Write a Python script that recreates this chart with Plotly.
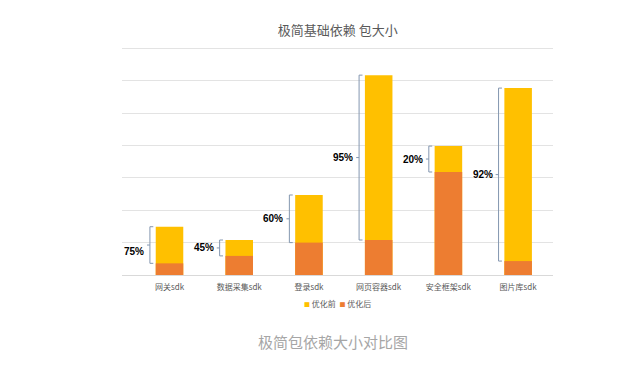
import plotly.graph_objects as go

categories = ["网关sdk", "数据采集sdk", "登录sdk", "网页容器sdk", "安全框架sdk", "图片库sdk"]
before = [1.49, 1.08, 2.47, 6.17, 3.98, 5.77]   # 优化前
after = [0.36, 0.59, 1.00, 1.08, 3.18, 0.43]    # 优化后
reduction_labels = ["75%", "45%", "60%", "95%", "20%", "92%"]

YELLOW = "#FFC000"
ORANGE = "#ED7D31"
BRACE = "#8497B0"
CJK = "Noto Sans CJK SC, Liberation Sans, sans-serif"

fig = go.Figure()
fig.add_trace(go.Bar(x=categories, y=before, name="优化前", marker_color=YELLOW,
                     marker_line_width=0, showlegend=False))
fig.add_trace(go.Bar(x=categories, y=after, name="优化后", marker_color=ORANGE,
                     marker_line_width=0, showlegend=False))

# brackets
half_bar = 0.395 / 2
xl_off = half_bar + 6 / 71.9
xh_off = half_bar + 2.5 / 71.9
xt_off = xl_off + 3 / 71.9
shapes = []
annotations = []
line = dict(color=BRACE, width=1)
for i, (b, a, lab) in enumerate(zip(before, after, reduction_labels)):
    xl = i - xl_off
    xh = i - xh_off
    xt = i - xt_off
    mid = (a + b) / 2
    shapes += [
        dict(type="line", xref="x", yref="y", x0=xh, x1=xl, y0=b, y1=b, line=line),
        dict(type="line", xref="x", yref="y", x0=xl, x1=xl, y0=b, y1=a, line=line),
        dict(type="line", xref="x", yref="y", x0=xl, x1=xh, y0=a, y1=a, line=line),
        dict(type="line", xref="x", yref="y", x0=xl, x1=xt, y0=mid, y1=mid, line=line),
    ]
    annotations.append(dict(x=xt, y=mid, xref="x", yref="y", text=lab, showarrow=False,
                            xanchor="right", yanchor="middle", xshift=-1,
                            yshift=-6 if i == 0 else 0,
                            font=dict(family="Liberation Sans, Noto Sans CJK SC", size=10,
                                      color="#000000", weight="bold")))

# legend (compact, Excel-style)
annotations.append(dict(
    x=0.5, y=-0.122, xref="paper", yref="paper", showarrow=False,
    xanchor="center", yanchor="middle",
    text=(f"<span style='color:{YELLOW};font-size:6px'>■</span> 优化前  "
          f"<span style='color:{ORANGE};font-size:6px'>■</span> 优化后"),
    font=dict(family=CJK, size=8, color="#595959")))
# caption
annotations.append(dict(
    x=0.49, y=-0.291, xref="paper", yref="paper", showarrow=False,
    xanchor="center", yanchor="middle", text="极简包依赖大小对比图",
    font=dict(family=CJK, size=15, color="#A6A6A6")))

fig.update_layout(
    width=641, height=370,
    margin=dict(l=122, r=88, t=45, b=95),
    paper_bgcolor="white", plot_bgcolor="white",
    barmode="overlay", bargap=0.605,
    title=dict(text="极简基础依赖 包大小", x=0.527, xanchor="center",
               y=1 - 30 / 370, yanchor="middle", yref="container",
               font=dict(family=CJK, size=13, color="#595959")),
    shapes=shapes, annotations=annotations,
    showlegend=False,
)
fig.update_xaxes(showgrid=False, showline=True, linecolor="#D9D9D9", linewidth=1,
                 ticks="", ticklabelstandoff=4,
                 tickfont=dict(family=CJK, size=8, color="#595959"))
fig.update_yaxes(range=[0, 7.1], tickvals=[1, 2, 3, 4, 5, 6, 7], showticklabels=False,
                 showgrid=True, gridcolor="#E3E3E3", gridwidth=1, zeroline=False,
                 showline=False)

fig.write_html("out.html", config={"displayModeBar": False},
               post_script="document.body.style.margin='0';")
